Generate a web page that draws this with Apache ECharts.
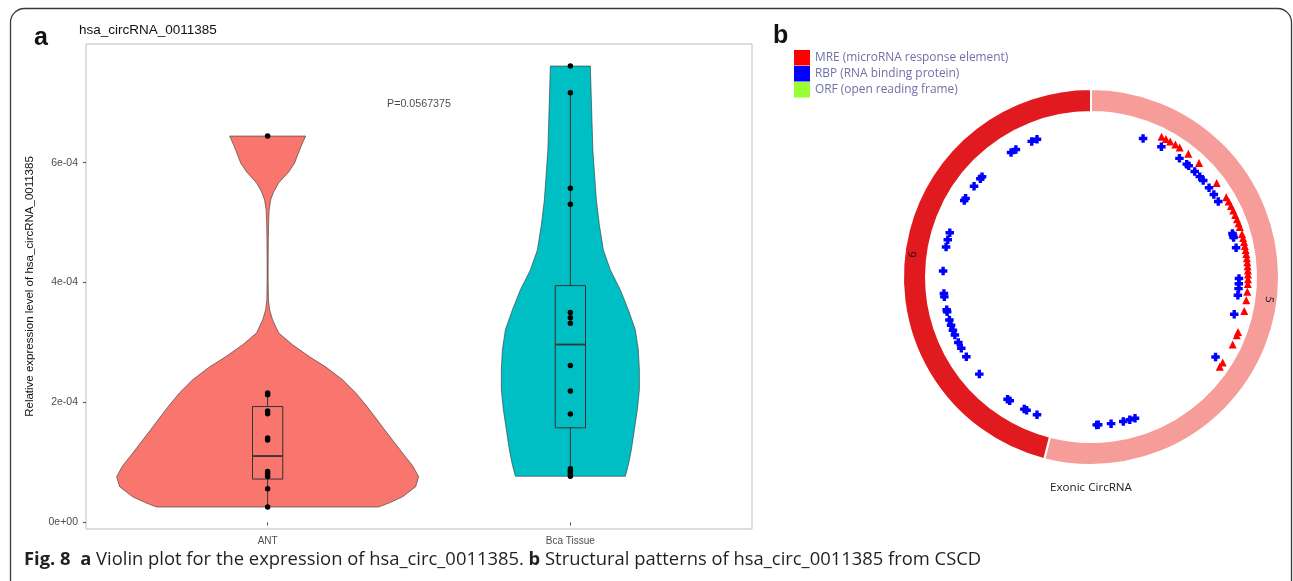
<!DOCTYPE html>
<html>
<head>
<meta charset="utf-8">
<script src="https://cdn.jsdelivr.net/npm/echarts@6/dist/echarts.min.js"></script>
<style>
html,body{margin:0;padding:0;background:#fff;}
#chart{width:1293px;height:581px;}
</style>
</head>
<body>
<div id="chart"></div>
<script>
// ---- Panel a: violin plot data ----
const groups = ['ANT', 'Bca Tissue'];
const groupColors = ['#F8766D', '#00BFC4'];

// density outline: expression level and half width (in category units)
const antLevels = [6.445e-4, 6.295e-4, 6.128e-4, 5.995e-4, 5.845e-4, 5.662e-4, 5.512e-4, 5.378e-4, 5.212e-4, 5.012e-4,
  4.712e-4, 4.378e-4, 4.045e-4, 3.712e-4, 3.545e-4, 3.378e-4, 3.162e-4, 2.962e-4, 2.762e-4, 2.595e-4,
  2.378e-4, 2.162e-4, 1.962e-4, 1.745e-4, 1.545e-4, 1.328e-4, 1.112e-4, 0.945e-4, 0.762e-4, 0.595e-4,
  0.428e-4, 0.328e-4, 0.257e-4];
const antHalfWidth = [0.1255, 0.1123, 0.0991, 0.0892, 0.0694, 0.0363, 0.0198, 0.0099, 0.0050, 0.0033,
  0.0023, 0.0017, 0.0017, 0.0026, 0.0066, 0.0165, 0.0363, 0.0826, 0.1388, 0.1916,
  0.2478, 0.2907, 0.3238, 0.3568, 0.3865, 0.4196, 0.4526, 0.4790, 0.4988, 0.4889,
  0.4460, 0.4030, 0.3667];
const bcaLevels = [7.612e-4, 7.045e-4, 6.212e-4, 5.378e-4, 4.962e-4, 4.545e-4, 4.212e-4, 3.878e-4, 3.545e-4,
  3.212e-4, 2.878e-4, 2.545e-4, 2.212e-4, 1.878e-4, 1.545e-4, 1.212e-4, 0.962e-4, 0.770e-4];
const bcaHalfWidth = [0.0661, 0.0694, 0.0743, 0.0859, 0.0958, 0.1090, 0.1321, 0.1652, 0.1916,
  0.2147, 0.2246, 0.2280, 0.2280, 0.2213, 0.2114, 0.2015, 0.1916, 0.1817];

// individual samples
const antPoints = [6.445e-4, 2.157e-4, 2.128e-4, 1.857e-4, 1.812e-4, 1.407e-4, 1.373e-4, 0.850e-4, 0.812e-4, 0.767e-4, 0.562e-4, 0.257e-4];
const bcaPoints = [7.612e-4, 7.167e-4, 5.573e-4, 5.307e-4, 3.500e-4, 3.412e-4, 3.323e-4, 2.617e-4, 2.190e-4, 1.807e-4, 0.895e-4, 0.853e-4, 0.812e-4, 0.770e-4];

// box statistics: lower whisker, Q1, median, Q3, upper whisker
const antBox = [0.257e-4, 0.723e-4, 1.107e-4, 1.933e-4, 2.157e-4];
const bcaBox = [0.770e-4, 1.578e-4, 2.967e-4, 3.950e-4, 7.167e-4];

const yTicks = [0, 2e-4, 4e-4, 6e-4];
const yTickLabels = ['0e+00', '2e-04', '4e-04', '6e-04'];
const pValueText = 'P=0.0567375';

// ---- Panel b: circRNA structure ----
const exonNames = ['5', '6'];
const exonSpans = [194.4, 165.6];          // degrees of the ring
const exonColors = ['#F69C99', '#E01A1E'];
const featureNames = ['MRE (microRNA response element)', 'RBP (RNA binding protein)', 'ORF (open reading frame)'];
const featureColors = ['#FF0000', '#0000FF', '#99FF33'];
const mreAngles = [26.7, 28.5, 30.3, 32.5, 34.4, 38.3, 43.5, 53.2,
  59.5, 61.3, 63.1, 64.9, 66.7, 68.4, 70.0, 71.4,
  74.1, 75.6, 77.1, 78.6, 80.1, 81.6, 83.1, 84.6, 86.1, 87.6, 89.1, 90.8, 92.6, 95.4,
  98.5, 102.5, 110.5, 111.8, 115.5, 123.0, 124.9];
const rbpAngles = [20.6, 28.4, 36.7, 40.3, 41.3, 44.5, 47.3, 49.3, 52.9, 56.1, 59.3,
  72.9, 73.7, 74.5, 78.6, 90.6, 92.6, 94.5, 97.1, 104.6, 122.7,
  162.7, 164.8, 167.4, 172.2, 177.2, 177.8,
  201.4, 205.8, 206.8, 213.3, 214.3, 229.0, 237.4, 241.2, 243.7,
  246.9, 248.9, 251.0, 253.1, 256.4, 257.2, 262.3, 263.6,
  272.3, 281.7, 284.6, 287.4, 301.1, 302.1, 307.8, 311.6, 312.6,
  327.3, 329.5, 336.4, 338.6];

const chart = echarts.init(document.getElementById('chart'), null, {renderer: 'canvas'});

const violinData = [
  {levels: antLevels, half: antHalfWidth},
  {levels: bcaLevels, half: bcaHalfWidth}
];
const boxData = [antBox, bcaBox];

function renderViolin(params, api) {
  const g = api.value(0);
  const v = violinData[g];
  const cx = g + 1;
  const left = v.levels.map((lv, i) => api.coord([cx - v.half[i], lv]));
  const right = v.levels.map((lv, i) => api.coord([cx + v.half[i], lv])).reverse();
  return {
    type: 'polygon',
    shape: {points: left.concat(right), smooth: 0},
    style: {fill: groupColors[g], stroke: '#333333', lineWidth: 0.6}
  };
}

function renderBox(params, api) {
  const g = api.value(0);
  const b = boxData[g];
  const cx = g + 1;
  const hw = 0.05;
  const pLow = api.coord([cx, b[0]]);
  const pQ1 = api.coord([cx, b[1]]);
  const pMed = api.coord([cx, b[2]]);
  const pQ3 = api.coord([cx, b[3]]);
  const pHigh = api.coord([cx, b[4]]);
  const xl = api.coord([cx - hw, b[2]])[0];
  const xr = api.coord([cx + hw, b[2]])[0];
  const stroke = '#333333';
  return {
    type: 'group',
    children: [
      {type: 'line', shape: {x1: pQ3[0], y1: pQ3[1], x2: pHigh[0], y2: pHigh[1]}, style: {stroke, lineWidth: 1}},
      {type: 'line', shape: {x1: pQ1[0], y1: pQ1[1], x2: pLow[0], y2: pLow[1]}, style: {stroke, lineWidth: 1}},
      {type: 'rect', shape: {x: xl, y: pQ3[1], width: xr - xl, height: pQ1[1] - pQ3[1]}, style: {fill: 'none', stroke, lineWidth: 1}},
      {type: 'line', shape: {x1: xl, y1: pMed[1], x2: xr, y2: pMed[1]}, style: {stroke, lineWidth: 1.8}}
    ]
  };
}

const exonData = [];
let acc = 0;
exonSpans.forEach((span, i) => {
  const mid = acc + span / 2;
  acc += span;
  exonData.push({
    name: exonNames[i],
    value: span,
    itemStyle: {color: exonColors[i]},
    label: {rotate: -mid}
  });
});

const fontA = '"Liberation Sans", Arial, sans-serif';
const fontB = '"Open Sans", "Noto Sans", sans-serif';

const option = {
  animation: false,
  backgroundColor: '#ffffff',
  grid: {
    left: 86, top: 44, width: 666, height: 485,
    show: true, borderColor: '#BDBDBD', borderWidth: 1, backgroundColor: 'transparent'
  },
  xAxis: {
    type: 'value', min: 0.4, max: 2.6,
    axisLine: {show: false},
    splitLine: {show: false},
    axisTick: {show: true, length: 3, customValues: [1, 2], lineStyle: {color: '#4D4D4D', width: 1}},
    axisLabel: {
      customValues: [1, 2], margin: 7, color: '#4D4D4D', fontSize: 10, fontFamily: fontA,
      formatter: v => groups[Math.round(v) - 1] || ''
    }
  },
  yAxis: {
    type: 'value', min: -1.1e-5, max: 7.98e-4,
    axisLine: {show: false},
    splitLine: {show: false},
    axisTick: {show: true, length: 3, customValues: yTicks, lineStyle: {color: '#4D4D4D', width: 1}},
    axisLabel: {
      customValues: yTicks, margin: 8, color: '#4D4D4D', fontSize: 10.5, fontFamily: fontA,
      formatter: v => {
        const i = yTicks.findIndex(t => Math.abs(t - v) < 1e-9);
        return i >= 0 ? yTickLabels[i] : '';
      }
    },
    name: 'Relative expression level of hsa_circRNA_0011385',
    nameLocation: 'middle', nameGap: 50,
    nameTextStyle: {color: '#111', fontSize: 11.5, fontFamily: fontA}
  },
  polar: {center: [1091, 277], radius: 188},
  angleAxis: {type: 'value', min: 0, max: 360, startAngle: 90, clockwise: true, show: false},
  radiusAxis: {type: 'value', min: 0, max: 188, show: false},
  legend: {
    left: 794, top: 50, orient: 'vertical', padding: 0,
    itemWidth: 16, itemHeight: 15.5, itemGap: 0.5,
    icon: 'rect', selectedMode: false,
    data: featureNames,
    itemStyle: {opacity: 1},
    textStyle: {color: '#7070A8', fontSize: 11.9, fontFamily: fontB}
  },
  series: [
    {
      type: 'custom', name: 'violin', coordinateSystem: 'cartesian2d',
      renderItem: renderViolin, data: [[0], [1]], encode: {x: -1, y: -1}, z: 1, silent: true
    },
    {
      type: 'custom', name: 'box', coordinateSystem: 'cartesian2d',
      renderItem: renderBox, data: [[0], [1]], encode: {x: -1, y: -1}, z: 2, silent: true
    },
    {
      type: 'scatter', name: 'samples', symbolSize: 5.5, z: 3, silent: true,
      itemStyle: {color: '#000000', opacity: 1},
      data: antPoints.map(v => [1, v]).concat(bcaPoints.map(v => [2, v]))
    },
    {
      type: 'scatter', name: 'pvalue', symbolSize: 0, silent: true,
      data: [[1.5, 6.98e-4]],
      label: {show: true, position: 'inside', formatter: pValueText, color: '#1a1a1a', fontSize: 10.7, fontFamily: fontA}
    },
    {
      type: 'pie', name: 'exons', radius: [165, 188], center: [1091, 277],
      startAngle: 90, clockwise: true, silent: true, avoidLabelOverlap: false,
      itemStyle: {borderColor: '#ffffff', borderWidth: 2},
      label: {show: true, position: 'inside', color: '#111', fontSize: 11, fontFamily: fontB},
      labelLine: {show: false},
      data: exonData
    },
    {
      type: 'scatter', name: featureNames[0], coordinateSystem: 'polar',
      symbol: 'triangle', symbolSize: 8, silent: true,
      itemStyle: {color: featureColors[0], opacity: 1},
      data: mreAngles.map(a => [157, a])
    },
    {
      type: 'scatter', name: featureNames[1], coordinateSystem: 'polar',
      symbol: 'path://M30,0H70V30H100V70H70V100H30V70H0V30H30Z', symbolSize: 8.5, silent: true,
      itemStyle: {color: featureColors[1], opacity: 1},
      data: rbpAngles.map(a => [148, a])
    },
    {
      type: 'scatter', name: featureNames[2], coordinateSystem: 'polar',
      symbolSize: 8, silent: true,
      itemStyle: {color: featureColors[2], opacity: 1},
      data: []
    }
  ],
  graphic: [
    {
      type: 'rect', silent: true,
      shape: {x: 10.5, y: 8.5, width: 1281, height: 590, r: 14},
      style: {fill: 'none', stroke: '#3a3a3a', lineWidth: 1.3}
    },
    {
      type: 'text', left: 34, top: 26, silent: true,
      style: {text: 'a', font: 'bold 25px ' + fontA, fill: '#111'}
    },
    {
      type: 'text', left: 79, top: 23, silent: true,
      style: {text: 'hsa_circRNA_0011385', font: '13.5px ' + fontA, fill: '#111'}
    },
    {
      type: 'text', left: 773, top: 24, silent: true,
      style: {text: 'b', font: 'bold 25px ' + fontA, fill: '#111'}
    },
    {
      type: 'text', x: 1091, y: 488, silent: true,
      style: {text: 'Exonic CircRNA', font: '11.6px ' + fontB, fill: '#222', textAlign: 'center', textVerticalAlign: 'middle'}
    },
    {
      type: 'text', x: 24, y: 560, silent: true,
      style: {
        text: '{b|Fig. 8}  {b|a} Violin plot for the expression of hsa_circ_0011385. {b|b} Structural patterns of hsa_circ_0011385 from CSCD',
        font: '18.4px ' + fontB, fill: '#231F20', textVerticalAlign: 'middle',
        rich: {b: {fontWeight: 'bold', fontSize: 18.4, fontFamily: fontB, fill: '#231F20'}}
      }
    }
  ]
};

chart.setOption(option);
</script>
</body>
</html>
